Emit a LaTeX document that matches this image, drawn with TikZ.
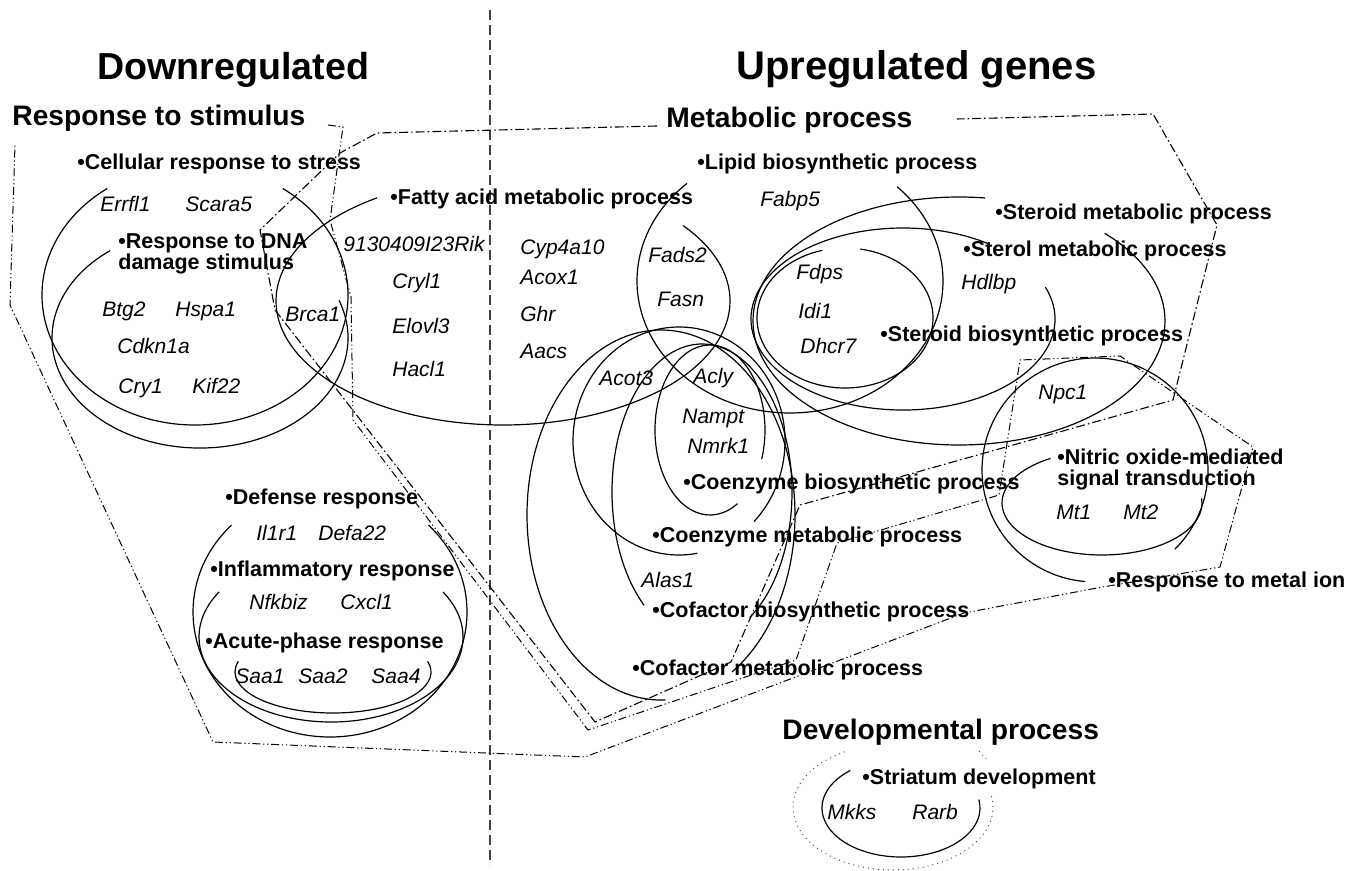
\documentclass[tikz,border=0pt]{standalone}
\usepackage{fontspec}
\setmainfont{Liberation Sans}
\begin{document}
\begin{tikzpicture}[x=0.5pt,y=-0.5pt,
  gene/.style={font=\fontsize{10.5}{12}\selectfont\itshape, anchor=base west, inner sep=0pt},
  term/.style={font=\fontsize{10.75}{10.5}\selectfont\bfseries, anchor=base west, inner sep=0pt, align=left},
  section/.style={font=\fontsize{14.1}{15}\selectfont\bfseries, anchor=base west, inner sep=0pt},
  headline/.style={font=\fontsize{18.8}{20}\selectfont\bfseries, anchor=base west, inner sep=0pt},
  ring/.style={line width=0.6pt},
  metabox/.style={line width=0.55pt, dash pattern=on 4.5pt off 1.5pt on 0.8pt off 1.5pt},
  stimbox/.style={line width=0.5pt, dash pattern=on 4pt off 1.4pt on 0.6pt off 1.4pt on 0.6pt off 1.4pt}]
  \useasboundingbox (0,0) rectangle (1355,871);
  % divider
  \draw[black!75, line width=0.6pt, dash pattern=on 5pt off 2.5pt]
    (490,10) -- (490,865);
  % titles
  \node[headline] (down) at (97,80) {Downregulated};
  \node[headline, font=\fontsize{20}{21}\selectfont\bfseries] (up) at (736,80) {Upregulated genes};
  \node[section] (stim) at (12,126) {Response to stimulus};
  \node[section] (meta) at (666,128) {Metabolic process};
  \node[section] (devel) at (782,739) {Developmental process};
  % group outlines
  \draw[stimbox]
    (328,125) -- (343,127) -- (330,220) -- (351,297) -- (353,420)
    -- (588,730) -- (796,660) -- (837,543) -- (999,495) -- (1020,360)
    -- (1120,356) -- (1253,447) -- (1220,567) -- (1097,588) -- (964,613)
    -- (585,757) -- (213,742) -- (10,305) -- (15,145);
  \draw[metabox]
    (657,126) -- (377,133) -- (340,153) -- (260,230) -- (275,310)
    -- (595,722) -- (731,662) -- (800,505) -- (1173,400) -- (1217,225)
    -- (1153,114) -- (957,119);
  % response to stimulus
  \draw[ring] (195,295) ++(-55:153 and 130)
    arc[start angle=-55, end angle=235, x radius=153, y radius=130];
  \draw[ring] (200,338) ++(-20:148 and 110)
    arc[start angle=-20, end angle=232.6, x radius=148, y radius=110];
  \draw[ring] (330,612) ++(-44:137 and 125)
    arc[start angle=-44, end angle=224, x radius=137, y radius=125];
  \draw[ring] (331,637) ++(-32:132 and 85)
    arc[start angle=-32, end angle=212, x radius=132, y radius=85];
  \draw[ring] (333,672) ++(-15:98 and 41)
    arc[start angle=-15, end angle=195, x radius=98, y radius=41];
  % metabolic process
  \draw[ring] (503,301) ++(-37.5:227 and 124)
    arc[start angle=-37.5, end angle=236.3, x radius=227, y radius=124];
  \draw[ring] (790,281) ++(-45.6:153 and 132)
    arc[start angle=-45.6, end angle=227.7, x radius=153, y radius=132];
  \draw[ring] (959,321) ++(-45:206 and 124)
    arc[start angle=-45, end angle=277.3, x radius=206, y radius=124];
  \draw[ring] (903,319) ++(-20.5:152 and 91)
    arc[start angle=-20.5, end angle=305, x radius=152, y radius=91];
  \draw[ring] (845,318) ++(-80:88 and 70)
    arc[start angle=-80, end angle=255, x radius=88, y radius=70];
  \draw[ring] (710,430) ++(60:55 and 85)
    arc[start angle=60, end angle=380, x radius=55, y radius=85];
  \draw[ring] (679,441) ++(80:106 and 114)
    arc[start angle=80, end angle=405, x radius=106, y radius=114];
  \draw[ring] (702,492) ++(130:90 and 148)
    arc[start angle=130, end angle=418, x radius=90, y radius=148];
  \draw[ring] (661,515) ++(88:134 and 185)
    arc[start angle=88, end angle=418, x radius=134, y radius=185];
  % metal ion
  \draw[ring] (1102,503) ++(-5:100 and 52)
    arc[start angle=-5, end angle=239, x radius=100, y radius=52];
  \draw[ring] (1095,470) ++(95:113 and 112)
    arc[start angle=95, end angle=405, x radius=113, y radius=112];
  % developmental process
  \draw[ring] (901,808) ++(-10:79 and 49)
    arc[start angle=-10, end angle=230, x radius=79, y radius=49];
  \draw[black!70, line width=0.5pt, dotted] (893,807) ++(-10:100 and 63)
    arc[start angle=-10, end angle=242, x radius=100, y radius=63];
  \draw[black!70, line width=0.5pt, dotted] (979,751) -- (986,759);
  % terms
  \node[term] (cell) at (77,170) {•Cellular response to stress};
  \node[term, anchor=north west] (dna) at (118,233) {•Response to DNA\\damage stimulus};
  \node[term] (defense) at (225,504) {•Defense response};
  \node[term] (inflam) at (210,576) {•Inflammatory response};
  \node[term] (acute) at (205,648) {•Acute-phase response};
  \node[term] (fatty) at (390,205) {•Fatty acid metabolic process};
  \node[term] (lipid) at (697,170) {•Lipid biosynthetic process};
  \node[term] (stmeta) at (995,220) {•Steroid metabolic process};
  \node[term] (sterol) at (963,257) {•Sterol metabolic process};
  \node[term] (stbio) at (880,342) {•Steroid biosynthetic process};
  \node[term] (coebio) at (683,490) {•Coenzyme biosynthetic process};
  \node[term] (coemeta) at (652,543) {•Coenzyme metabolic process};
  \node[term] (cofbio) at (652,617) {•Cofactor biosynthetic process};
  \node[term] (cofmeta) at (632,675) {•Cofactor metabolic process};
  \node[term, anchor=north west] (nitric) at (1057,449) {•Nitric oxide-mediated\\signal transduction};
  \node[term] (metal) at (1108,588) {•Response to metal ion};
  \node[term] (striatum) at (862,784) {•Striatum development};
  % genes
  \node[gene] (errfl1) at (100,212) {Errfl1};
  \node[gene] (scara5) at (185,212) {Scara5};
  \node[gene] (btg2) at (102,317) {Btg2};
  \node[gene] (hspa1) at (175,317) {Hspa1};
  \node[gene] (brca1) at (285,322) {Brca1};
  \node[gene] (cdkn1a) at (117,354) {Cdkn1a};
  \node[gene] (cry1) at (118,394) {Cry1};
  \node[gene] (kif22) at (192,394) {Kif22};
  \node[gene] (rik) at (343,252) {9130409I23Rik};
  \node[gene] (cryl1) at (392,289) {Cryl1};
  \node[gene] (elovl3) at (392,334) {Elovl3};
  \node[gene] (hacl1) at (392,377) {Hacl1};
  \node[gene] (cyp4a10) at (520,255) {Cyp4a10};
  \node[gene] (acox1) at (520,285) {Acox1};
  \node[gene] (ghr) at (520,322) {Ghr};
  \node[gene] (aacs) at (520,359) {Aacs};
  \node[gene] (fads2) at (648,263) {Fads2};
  \node[gene] (fasn) at (657,307) {Fasn};
  \node[gene] (fabp5) at (760,207) {Fabp5};
  \node[gene] (fdps) at (796,280) {Fdps};
  \node[gene] (idi1) at (798,319) {Idi1};
  \node[gene] (dhcr7) at (800,354) {Dhcr7};
  \node[gene] (hdlbp) at (961,290) {Hdlbp};
  \node[gene] (npc1) at (1038,400) {Npc1};
  \node[gene] (acot3) at (599,386) {Acot3};
  \node[gene] (acly) at (693,384) {Acly};
  \node[gene] (nampt) at (682,424) {Nampt};
  \node[gene] (nmrk1) at (687,454) {Nmrk1};
  \node[gene] (alas1) at (641,587) {Alas1};
  \node[gene] (mt1) at (1056,520) {Mt1};
  \node[gene] (mt2) at (1123,519) {Mt2};
  \node[gene] (il1r1) at (256,540) {Il1r1};
  \node[gene] (defa22) at (318,540) {Defa22};
  \node[gene] (nfkbiz) at (249,610) {Nfkbiz};
  \node[gene] (cxcl1) at (340,610) {Cxcl1};
  \node[gene] (saa1) at (235,683) {Saa1};
  \node[gene] (saa2) at (298,683) {Saa2};
  \node[gene] (saa4) at (371,683) {Saa4};
  \node[gene] (mkks) at (827,819) {Mkks};
  \node[gene] (rarb) at (912,819) {Rarb};
\end{tikzpicture}
\end{document}
